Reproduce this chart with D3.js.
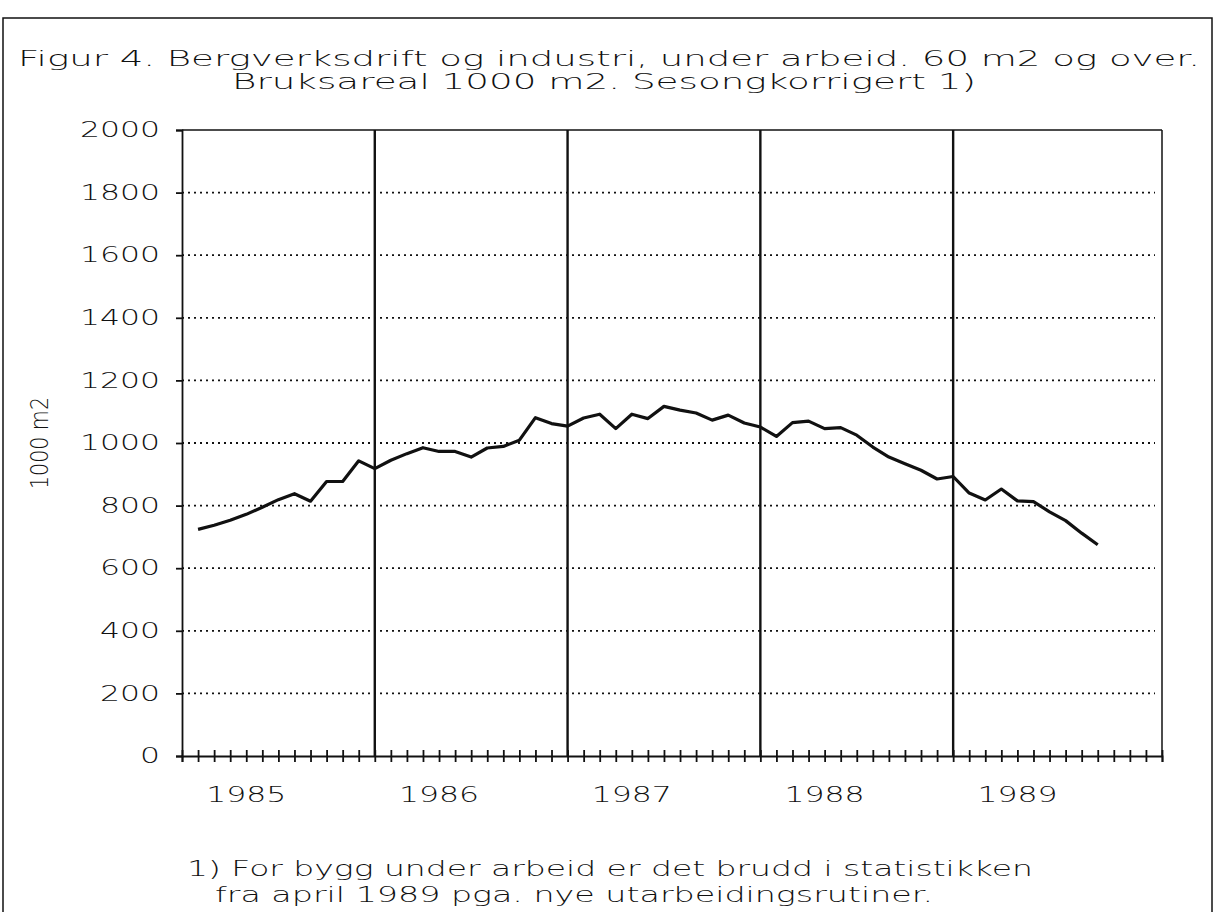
<!DOCTYPE html>
<html>
<head>
<meta charset="utf-8">
<script src="https://cdn.jsdelivr.net/npm/d3@7"></script>
<style>
  body { margin: 0; background: #fff; }
  text { font-family: "DejaVu Sans", sans-serif; font-weight: 200; fill: #111; }
</style>
</head>
<body>
<div id="chart"></div>
<script>
// monthly values, Jan 1985 - Sep 1989 (1000 m2, seasonally adjusted)
var values = [
  724, 737, 753, 772, 795, 819, 838, 814, 877, 877, 943, 918,
  945, 966, 985, 973, 973, 955, 984, 989, 1009, 1081, 1062, 1054,
  1080, 1092, 1046, 1092, 1078, 1117, 1105, 1096, 1073, 1089, 1064, 1051,
  1021, 1065, 1070, 1046, 1049, 1025, 987, 955, 934, 913, 885, 893,
  840, 818, 853, 815, 813, 780, 752, 712, 675
];
var years = ["1985", "1986", "1987", "1988", "1989"];
var yTicks = [0, 200, 400, 600, 800, 1000, 1200, 1400, 1600, 1800, 2000];
var titleLines = [
  "Figur 4. Bergverksdrift og industri, under arbeid. 60 m2 og over.",
  "Bruksareal 1000 m2. Sesongkorrigert 1)"
];
var noteLines = [
  "1) For bygg under arbeid er det brudd i statistikken",
  "fra april 1989 pga. nye utarbeidingsrutiner."
];
var yTitle = "1000 m2";

var width = 1217, height = 912;
var plotLeft = 182, plotRight = 1162, plotTop = 130, plotBottom = 756;

var svg = d3.select("#chart").append("svg")
  .attr("width", width)
  .attr("height", height);

// outer frame
svg.append("rect")
  .attr("x", 3).attr("y", 18)
  .attr("width", 1209).attr("height", 920)
  .attr("fill", "none").attr("stroke", "#111").attr("stroke-width", 1.5);

var x = d3.scaleLinear().domain([0, 61]).range([plotLeft, plotRight]);
var y = d3.scaleLinear().domain([0, 2000]).range([plotBottom, plotTop]);

// stretched wide text, like the old plotter font
function wideText(tx, ty, str, len) {
  return svg.append("text").attr("x", tx).attr("y", ty)
    .attr("font-size", 21)
    .attr("textLength", len).attr("lengthAdjust", "spacingAndGlyphs")
    .text(str);
}

// title
wideText(18, 66, titleLines[0], 1182);
wideText(232, 89, titleLines[1], 744);

// dotted grid
svg.append("g").selectAll("line")
  .data(yTicks.filter(function (d) { return d > 0 && d < 2000; }))
  .enter().append("line")
  .attr("x1", plotLeft).attr("x2", plotRight - 7)
  .attr("y1", function (d) { return y(d); })
  .attr("y2", function (d) { return y(d); })
  .attr("stroke", "#111").attr("stroke-width", 1.8)
  .attr("stroke-dasharray", "2,4");

// top and right frame of plot
svg.append("line").attr("x1", plotLeft).attr("x2", plotRight)
  .attr("y1", y(2000)).attr("y2", y(2000))
  .attr("stroke", "#111").attr("stroke-width", 1.5);
svg.append("line").attr("x1", plotRight).attr("x2", plotRight)
  .attr("y1", y(2000)).attr("y2", y(0))
  .attr("stroke", "#111").attr("stroke-width", 1.5);

// year separators
svg.append("g").selectAll("line")
  .data([12, 24, 36, 48])
  .enter().append("line")
  .attr("x1", function (d) { return x(d); })
  .attr("x2", function (d) { return x(d); })
  .attr("y1", y(2000)).attr("y2", y(0))
  .attr("stroke", "#111").attr("stroke-width", 2.4);

// y axis
var yAxis = d3.axisLeft(y).tickValues(yTicks).tickSize(6).tickPadding(16)
  .tickFormat(d3.format("d"));
var gy = svg.append("g").attr("transform", "translate(" + plotLeft + ",0)").call(yAxis);
gy.select(".domain").attr("stroke", "#111").attr("stroke-width", 1.8);
gy.selectAll(".tick line").attr("stroke", "#111").attr("stroke-width", 1.8);
gy.selectAll(".tick text")
  .attr("font-size", 21)
  .attr("textLength", function (d) { return String(d).length * 20; })
  .attr("lengthAdjust", "spacingAndGlyphs")
  .style("font-family", "DejaVu Sans").attr("fill", "#111");

// x axis with monthly ticks crossing the line
var xAxis = d3.axisBottom(x).tickValues(d3.range(0, 62)).tickSize(6).tickFormat("");
var gx = svg.append("g").attr("transform", "translate(0," + plotBottom + ")").call(xAxis);
gx.select(".domain").attr("stroke", "#111").attr("stroke-width", 1.8);
gx.selectAll(".tick line").attr("y1", -6).attr("stroke", "#111").attr("stroke-width", 1.8);

svg.append("g").selectAll("text")
  .data(years)
  .enter().append("text")
  .attr("x", function (d, i) { return x(4 + 12 * i) - 40; })
  .attr("y", plotBottom + 46)
  .attr("font-size", 21)
  .attr("textLength", 80).attr("lengthAdjust", "spacingAndGlyphs")
  .text(function (d) { return d; });

// y title
svg.append("text")
  .attr("transform", "translate(48," + y(1000) + ") rotate(-90)")
  .attr("text-anchor", "middle")
  .attr("font-size", 25)
  .attr("textLength", 92).attr("lengthAdjust", "spacingAndGlyphs")
  .text(yTitle);

// data line
var line = d3.line()
  .x(function (d, i) { return x(i + 1); })
  .y(function (d) { return y(d); });
svg.append("path")
  .datum(values)
  .attr("d", line)
  .attr("fill", "none").attr("stroke", "#111")
  .attr("stroke-width", 3.2).attr("stroke-linejoin", "round");

// footnote
wideText(187, 876, noteLines[0], 846);
wideText(215, 902, noteLines[1], 718);
</script>
</body>
</html>
